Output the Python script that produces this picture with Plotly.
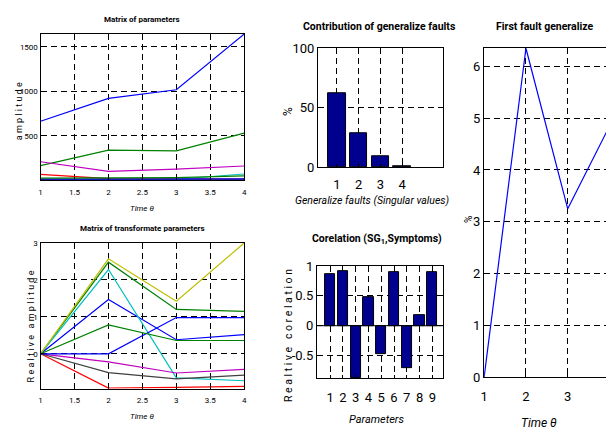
import plotly.graph_objects as go

W, H = 609, 439

# ---------------- data ----------------
time = [1, 2, 3, 4]
# Matrix of parameters (9 parameters, 4 time steps)
param_values = [
    [663, 920, 1018, 1645],   # p1 blue
    [163, 337, 330, 529],     # p2 green
    [65, 18, 15, 12],         # p3 red
    [5, 8, 10, 69],           # p4 cyan
    [207, 98, 123, 159],      # p5 magenta
    [3, 6, 4, 8],             # p6 yellow
    [10, 7, 6, 7],            # p7 black
    [12, 12, 14, 14],         # p8 blue
    [22, 29, 29, 47],         # p9 green
]
# Matrix of transformate parameters
rel_values = [
    [0, 1.47, 0.38, 0.52],    # p1 blue
    [0, 2.48, 1.20, 1.15],    # p2 green
    [0, -0.93, -0.91, -0.88], # p3 red
    [0, 2.28, -0.65, -0.73],  # p4 cyan
    [0, -0.22, -0.52, -0.42], # p5 magenta
    [0, 2.57, 1.42, 3.0],     # p6 yellow
    [0, -0.51, -0.68, -0.58], # p7 black
    [0, 0.0, 0.98, 0.98],     # p8 blue
    [0, 0.78, 0.36, 0.36],    # p9 green
]
line_colors = ["#0000FF", "#008000", "#FF0000", "#00BFBF", "#BF00BF",
               "#BFBF00", "#404040", "#0000FF", "#008000"]

faults = [1, 2, 3, 4]
contribution = [62.5, 28.5, 8.7, 0.5]

parameters = [1, 2, 3, 4, 5, 6, 7, 8, 9]
correlation = [0.86, 0.92, -0.88, 0.48, -0.47, 0.90, -0.71, 0.17, 0.90]

first_fault = [0, 6.35, 3.25, 4.85]

# ---------------- layout helpers ----------------
FONT = "Roboto, Liberation Sans, sans-serif"


def xd(a, b):
    return [a / W, b / W]


def yd(top, bottom):
    return [1 - bottom / H, 1 - top / H]


GRID = dict(showgrid=True, gridcolor="black", griddash="6px,4px", gridwidth=1,
            zeroline=False, showline=True, linecolor="black", linewidth=1.2,
            ticks="inside", ticklen=3, tickcolor="black")

fig = go.Figure()

# panel 1
for vals, c in zip(param_values, line_colors):
    fig.add_trace(go.Scatter(x=time, y=vals, mode="lines", line=dict(color=c, width=1.2),
                             xaxis="x", yaxis="y", showlegend=False))
# panel 2
for vals, c in zip(rel_values, line_colors):
    fig.add_trace(go.Scatter(x=time, y=vals, mode="lines", line=dict(color=c, width=1.2),
                             xaxis="x2", yaxis="y2", showlegend=False))
# panel 3
fig.add_trace(go.Bar(x=faults, y=contribution, width=0.8,
                     marker=dict(color="#00008F", line=dict(color="black", width=1)),
                     xaxis="x3", yaxis="y3", showlegend=False))
# panel 4
fig.add_trace(go.Bar(x=parameters, y=correlation, width=0.8,
                     marker=dict(color="#00008F", line=dict(color="black", width=1)),
                     xaxis="x4", yaxis="y4", showlegend=False))
fig.add_trace(go.Scatter(x=[-0.03, 9.83], y=[0, 0], mode="lines", line=dict(color="black", width=1),
                         xaxis="x4", yaxis="y4", showlegend=False, hoverinfo="skip"))
# panel 5
fig.add_trace(go.Scatter(x=time, y=first_fault, mode="lines", line=dict(color="#0000FF", width=1.2),
                         xaxis="x5", yaxis="y5", showlegend=False))

small = dict(family=FONT, size=8, color="black")
big = dict(family=FONT, size=13, color="black")

fig.update_layout(
    width=W, height=H, margin=dict(l=0, r=0, t=0, b=0),
    paper_bgcolor="white", plot_bgcolor="white", bargap=0,
    font=dict(family=FONT, size=10, color="black"),
    xaxis=dict(domain=xd(37, 243), range=[1, 4], tickvals=[1, 1.5, 2, 2.5, 3, 3.5, 4],
               ticktext=["1", "1.5", "2", "2.5", "3", "3.5", "4"], tickfont=small, anchor="y",
               mirror="ticks", ticklabelstandoff=4, **GRID),
    yaxis=dict(domain=yd(28, 179), range=[3, 1645], tickvals=[500, 1000, 1500], tickfont=small,
               anchor="x", mirror="ticks", **GRID),
    xaxis2=dict(domain=xd(37, 243), range=[1, 4], tickvals=[1, 1.5, 2, 2.5, 3, 3.5, 4],
                ticktext=["1", "1.5", "2", "2.5", "3", "3.5", "4"], tickfont=small, anchor="y2",
                mirror="ticks", ticklabelstandoff=4, **GRID),
    yaxis2=dict(domain=yd(244.3, 395), range=[-0.94, 3], tickvals=[0, 1, 2, 3], tickfont=small,
                anchor="x2", mirror="ticks", **GRID),
    xaxis3=dict(domain=xd(317.7, 444), range=[0.13, 5.88], tickvals=[1, 2, 3, 4], tickfont=big,
                anchor="y3", mirror="ticks", ticklabelstandoff=5, **GRID),
    yaxis3=dict(domain=yd(42.7, 165.7), range=[0, 100], tickvals=[0, 50, 100], tickfont=big,
                anchor="x3", mirror="ticks", **GRID),
    xaxis4=dict(domain=xd(316.7, 444), range=[-0.03, 9.83], tickvals=parameters, tickfont=big,
                anchor="y4", mirror="ticks", ticklabelstandoff=7, **GRID),
    yaxis4=dict(domain=yd(268.3, 384.3), range=[-0.88, 1.0], tickvals=[-0.5, 0, 0.5, 1],
                ticktext=["-0.5", "0", "0.5", "1"], tickfont=big, anchor="x4", mirror="ticks", **GRID),
    xaxis5=dict(domain=xd(485.7, 609), range=[1, 3.915], tickvals=[1, 2, 3], tickfont=big,
                anchor="y5", mirror=True, ticklabelstandoff=7, **GRID),
    yaxis5=dict(domain=yd(42.7, 383.3), range=[0, 6.35], tickvals=[0, 1, 2, 3, 4, 5, 6], tickfont=big,
                anchor="x5", mirror=False, **GRID),
)


def ann(text, px, py, size, bold=False, italic=False, angle=0):
    t = text
    if italic:
        t = "<i>" + t + "</i>"
    if bold:
        t = "<b>" + t + "</b>"
    fig.add_annotation(text=t, x=px / W, y=1 - py / H, xref="paper", yref="paper",
                       xanchor="center", yanchor="middle", showarrow=False, textangle=angle,
                       font=dict(family=FONT, size=size, color="black"))


ann("Matrix of parameters", 140, 13, 8, bold=True)
ann("Matrix of transformate parameters", 140, 229, 8, bold=True)
ann("Contribution of generalize faults", 380, 20, 10.5, bold=True)
ann("Corelation (SG<sub>1</sub>,Symptoms)", 377, 240, 10.5, bold=True)
ann("First fault generalize", 547, 20, 10.5, bold=True)

ann("Time θ", 140, 209, 8, italic=True)
ann("Time θ", 140, 424, 8, italic=True)
ann("Generalize faults (Singular values)", 372, 200, 10.5, italic=True)
ann("Parameters", 377, 427, 11, italic=True)
ann("Time θ", 541, 431, 12, italic=True)

ann("a m p l i t u d e", 15, 108, 9, angle=-90)
ann("R e a l t i v e   a m p l i t u d e", 27, 331, 9, angle=-90)
ann("%", 288, 108, 12, angle=-90)
ann("R e a l t i v e   c o r e l a t i o n", 288, 340, 10.5, angle=-90)
ann("%", 470, 220, 10, angle=-90)

fig.write_html("out.html")
